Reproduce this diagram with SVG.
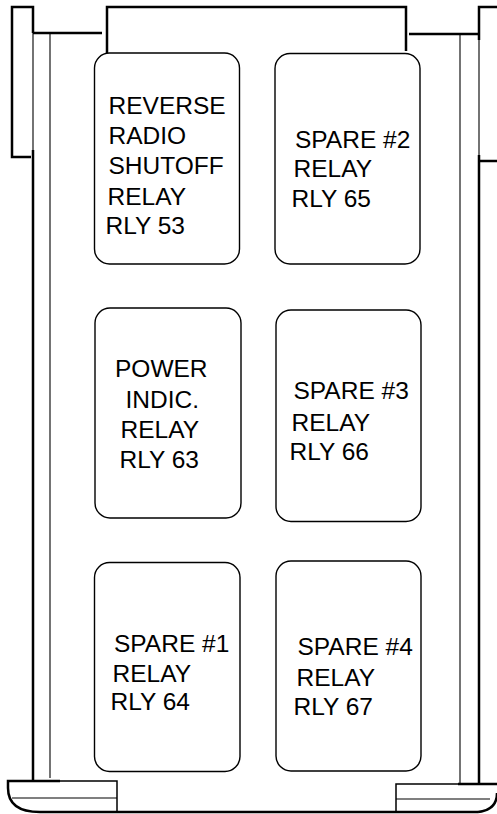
<svg xmlns="http://www.w3.org/2000/svg" width="497" height="814" viewBox="0 0 497 814">
<style>
.thick{fill:none;stroke:#000;stroke-width:2.5}
.mid{fill:none;stroke:#000;stroke-width:1.5}
.thin{fill:none;stroke:#000;stroke-width:1.1}
.box{fill:#fff;stroke:#000;stroke-width:1.4}
text{font-family:"Liberation Sans",Arial,sans-serif;font-size:24.5px;fill:#000}
</style>
<g id="frame">
  <path class="thick" d="M33,33 V7 H12 V157 H31"/>
  <path class="thin" d="M33,33 V150"/>
  <path class="thick" d="M33,150 V781"/>
  <path class="thick" d="M33,33 H102"/>
  <path class="thin" d="M50,33 V778"/>
  <path class="thick" d="M107,53 V7 H406 V51"/>
  <path class="thick" d="M409,34 H479"/>
  <path class="thick" d="M479,40 V7 H498"/>
  <path class="thin" d="M479,40 V155"/>
  <path class="thick" d="M479,155 V784"/>
  <path class="thick" d="M479,161 H498"/>
  <path class="thin" d="M460,34 V783"/>
  <path class="thick" d="M60,781 H8 V788 Q8,812 40,812 H478"/>
  <path class="mid" d="M60,781 H117 V812"/>
  <path class="thin" d="M12,798 H117"/>
  <path class="thick" d="M458,784 H498"/>
  <path class="mid" d="M458,784 H396 V812"/>
  <path class="thick" d="M478,812 Q497,810 497,793"/>
  <path class="thin" d="M396,799 H490"/>
</g>
<g id="rly53">
  <rect class="box" x="94.5" y="53" width="145" height="211" rx="15"/>
  <text x="108.5" y="114">REVERSE</text>
  <text x="108.5" y="144">RADIO</text>
  <text x="108.5" y="174">SHUTOFF</text>
  <text x="107.5" y="205">RELAY</text>
  <text x="105.5" y="234">RLY 53</text>
</g>
<g id="rly65">
  <rect class="box" x="275" y="53.5" width="145" height="210.5" rx="15"/>
  <text x="295" y="148">SPARE #2</text>
  <text x="293.5" y="177">RELAY</text>
  <text x="291.5" y="207">RLY 65</text>
</g>
<g id="rly63">
  <rect class="box" x="95" y="308" width="146" height="210" rx="15"/>
  <text x="115" y="377">POWER</text>
  <text x="125.5" y="408">INDIC.</text>
  <text x="120.5" y="438">RELAY</text>
  <text x="119.5" y="468">RLY 63</text>
</g>
<g id="rly66">
  <rect class="box" x="276" y="310" width="145" height="211.5" rx="15"/>
  <text x="293.5" y="399">SPARE #3</text>
  <text x="291.5" y="431">RELAY</text>
  <text x="289.5" y="460">RLY 66</text>
</g>
<g id="rly64">
  <rect class="box" x="94.5" y="562.5" width="145.5" height="209" rx="15"/>
  <text x="114" y="652">SPARE #1</text>
  <text x="112.5" y="682">RELAY</text>
  <text x="110.5" y="710">RLY 64</text>
</g>
<g id="rly67">
  <rect class="box" x="276" y="561" width="145" height="210" rx="15"/>
  <text x="297.5" y="655">SPARE #4</text>
  <text x="296.5" y="686">RELAY</text>
  <text x="293.5" y="715">RLY 67</text>
</g>
<g id="connectors"></g>
</svg>
